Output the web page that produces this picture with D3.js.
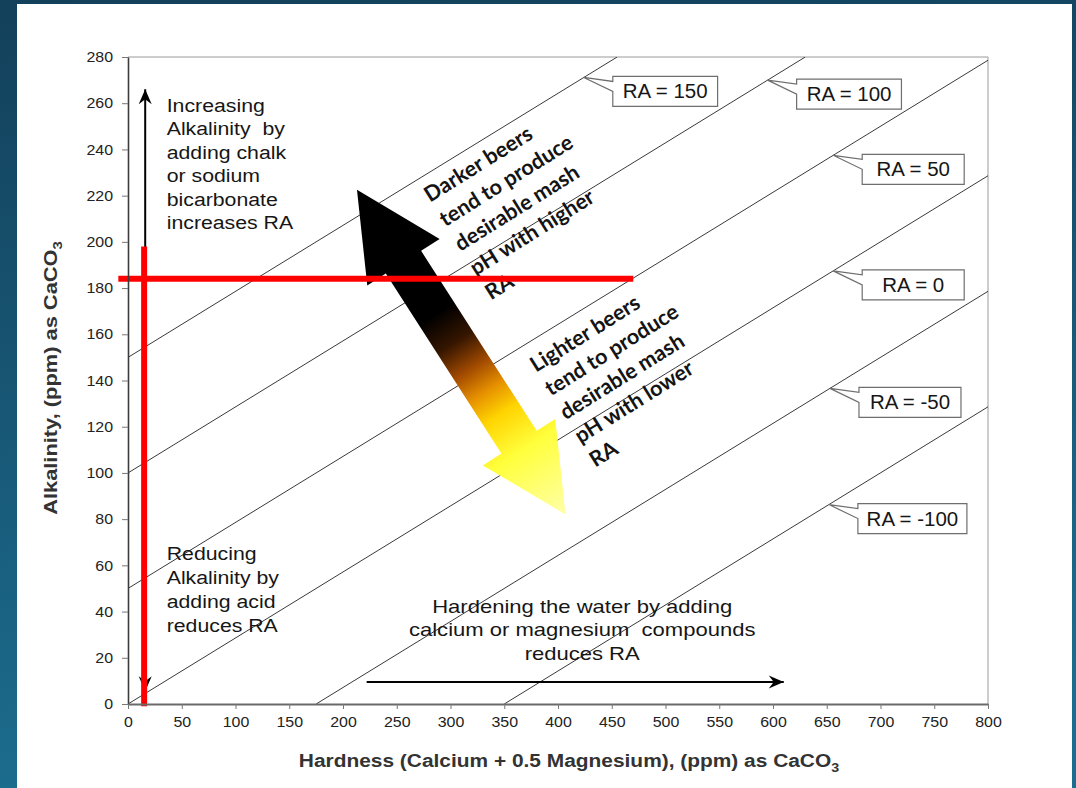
<!DOCTYPE html>
<html>
<head>
<meta charset="utf-8">
<script src="https://cdn.jsdelivr.net/npm/d3@7"></script>
<style>
    body { margin: 0; background: #17506c; }
    svg { display: block; }
</style>
</head>
<body>
<div id="chart"></div>
<script>
// tick labels
const hardnessTicks = [0, 50, 100, 150, 200, 250, 300, 350, 400, 450, 500, 550, 600, 650, 700, 750, 800];
const alkalinityTicks = [0, 20, 40, 60, 80, 100, 120, 140, 160, 180, 200, 220, 240, 260, 280];

// RA lines, read as [hardness, alkalinity] end points
const raValues = [150, 100, 50, 0, -50, -100];
const raLineStart = [[0, 150], [0, 100], [0, 50], [0, 0], [175, 0], [350, 0]];
const raLineEnd = [[455, 280], [630, 280], [800, 278.6], [800, 228.6], [800, 178.6], [800, 128.6]];
// hardness where each label's callout touches its line
const raLabelAt = [424, 595, 656, 656, 653, 652];

// red marker lines
const redVertical = { hardness: 15, from: -1, to: 198 };
const redHorizontal = { alkalinity: 184, from: -9, to: 470 };

// black direction arrows
const alkArrow = { hardness: 16, top: 266, bottom: 5.5 };
const hardArrow = { alkalinity: 9.5, from: 222, to: 610 };

// big colour arrow, tips as [hardness, alkalinity]
const beerArrow = [[213, 222.5], [407, 82]];

const textIncreasing = ["Increasing", "Alkalinity  by", "adding chalk", "or sodium", "bicarbonate", "increases RA"];
const textReducing = ["Reducing", "Alkalinity by", "adding acid", "reduces RA"];
const textHardening = ["Hardening the water by adding", "calcium or magnesium  compounds", "reduces RA"];
const textDarker = ["Darker beers", "tend to produce", "desirable mash", "pH with higher", "RA"];
const textLighter = ["Lighter beers", "tend to produce", "desirable mash", "pH with lower", "RA"];

const W = 1076, H = 788;
const margin = { top: 57, right: 88, bottom: 84, left: 128 };

const svg = d3.select("#chart").append("svg")
    .attr("width", W)
    .attr("height", H);

const defs = svg.append("defs");

// background
const bg = defs.append("linearGradient")
    .attr("id", "bg")
    .attr("x1", 0).attr("y1", 0).attr("x2", 0.15).attr("y2", 1);
bg.append("stop").attr("offset", 0).attr("stop-color", "#13405a");
bg.append("stop").attr("offset", 1).attr("stop-color", "#1c6d8f");

svg.append("rect").attr("width", W).attr("height", H).attr("fill", "url(#bg)");
svg.append("rect")
    .attr("x", 17).attr("y", 4)
    .attr("width", 1072 - 17).attr("height", H)
    .attr("fill", "#fff");

const x = d3.scaleLinear().domain([0, 800]).range([margin.left, W - margin.right]);
const y = d3.scaleLinear().domain([0, 280]).range([H - margin.bottom, margin.top]);

defs.append("clipPath").attr("id", "plot")
    .append("rect")
    .attr("x", x(0)).attr("y", y(280))
    .attr("width", x(800) - x(0)).attr("height", y(0) - y(280));

// plot frame (top and right)
svg.append("path")
    .attr("d", `M${x(0)},${y(280)}H${x(800)}V${y(0)}`)
    .attr("fill", "none")
    .attr("stroke", "#9a9a9a")
    .attr("stroke-width", 1);

// RA lines
svg.append("g")
    .attr("clip-path", "url(#plot)")
    .selectAll("line")
    .data(raValues)
    .join("line")
    .attr("x1", (d, i) => x(raLineStart[i][0]))
    .attr("y1", (d, i) => y(raLineStart[i][1]))
    .attr("x2", (d, i) => x(raLineEnd[i][0]))
    .attr("y2", (d, i) => y(raLineEnd[i][1]))
    .attr("stroke", "#3a3a3a")
    .attr("stroke-width", 1);

// big gradient arrow
const p1 = [x(beerArrow[0][0]), y(beerArrow[0][1])];
const p2 = [x(beerArrow[1][0]), y(beerArrow[1][1])];
const len = Math.hypot(p2[0] - p1[0], p2[1] - p1[1]);
const ux = (p2[0] - p1[0]) / len, uy = (p2[1] - p1[1]) / len;
const nx = -uy, ny = ux;
const hl = 86, hw = 43, sw = 21;
const local = [[0, 0], [hl, hw], [hl, sw], [len - hl, sw], [len - hl, hw], [len, 0],
    [len - hl, -hw], [len - hl, -sw], [hl, -sw], [hl, -hw]];
const arrowPts = local.map(([s, t]) => [p1[0] + s * ux + t * nx, p1[1] + s * uy + t * ny]);

const ag = defs.append("linearGradient")
    .attr("id", "beer")
    .attr("gradientUnits", "userSpaceOnUse")
    .attr("x1", p1[0]).attr("y1", p1[1])
    .attr("x2", p2[0]).attr("y2", p2[1]);
[[0, "#000000"], [0.38, "#000000"], [0.47, "#361600"], [0.55, "#a24a00"],
 [0.62, "#e69000"], [0.69, "#ffd400"], [0.8, "#ffff3c"], [1, "#ffffa8"]]
    .forEach(([o, c]) => ag.append("stop").attr("offset", o).attr("stop-color", c));

svg.append("path")
    .attr("d", d3.line()(arrowPts) + "Z")
    .attr("fill", "url(#beer)");

// arrow marker
defs.append("marker")
    .attr("id", "head")
    .attr("viewBox", "-16 -8 18 16")
    .attr("refX", 0).attr("refY", 0)
    .attr("markerWidth", 18).attr("markerHeight", 16)
    .attr("markerUnits", "userSpaceOnUse")
    .attr("orient", "auto-start-reverse")
    .append("path")
    .attr("d", "M0,0L-15,-6.5L-10,0L-15,6.5Z")
    .attr("fill", "#000");

svg.append("line")
    .attr("x1", x(alkArrow.hardness)).attr("x2", x(alkArrow.hardness))
    .attr("y1", y(alkArrow.bottom)).attr("y2", y(alkArrow.top))
    .attr("stroke", "#000").attr("stroke-width", 2)
    .attr("marker-start", "url(#head)")
    .attr("marker-end", "url(#head)");

svg.append("line")
    .attr("x1", x(hardArrow.from)).attr("x2", x(hardArrow.to))
    .attr("y1", y(hardArrow.alkalinity)).attr("y2", y(hardArrow.alkalinity))
    .attr("stroke", "#000").attr("stroke-width", 2)
    .attr("marker-end", "url(#head)");

// text helpers
function block(lines, px, py, opts) {
    const t = svg.append("text")
        .attr("transform", opts.rotate != null
            ? `translate(${px},${py}) rotate(${opts.rotate})`
            : `translate(${px},${py}) scale(${opts.sx || 1},1)`)
        .attr("font-family", opts.family || "'Liberation Sans', Arial, sans-serif")
        .attr("font-size", opts.size)
        .attr("font-weight", opts.weight || "normal")
        .attr("fill", opts.color || "#161616")
        .attr("text-anchor", opts.anchor || "start");
    t.selectAll("tspan")
        .data(lines)
        .join("tspan")
        .attr("x", 0)
        .attr("y", (d, i) => i * opts.lh)
        .style("white-space", "pre")
        .text(d => d);
    return t;
}

block(textIncreasing, x(36), y(256.3), { size: 19, sx: 1.12, lh: 23.5 });
block(textReducing, x(36), y(62.3), { size: 19, sx: 1.12, lh: 24 });
block(textHardening, x(422.5), y(39.4), { size: 19, sx: 1.16, lh: 23.5, anchor: "middle" });
block(textDarker, x(281), y(216.9), { size: 21.5, lh: 28.8, rotate: -32, weight: "bold", family: "Lato, 'Open Sans', sans-serif", color: "#141414" });
block(textLighter, x(379.5), y(143.3), { size: 21.5, lh: 28, rotate: -32, weight: "bold", family: "Lato, 'Open Sans', sans-serif", color: "#141414" });

// red lines on top
svg.append("line")
    .attr("x1", x(redVertical.hardness)).attr("x2", x(redVertical.hardness))
    .attr("y1", y(redVertical.from)).attr("y2", y(redVertical.to))
    .attr("stroke", "#ff0000").attr("stroke-width", 6);
svg.append("line")
    .attr("x1", x(redHorizontal.from)).attr("x2", x(redHorizontal.to))
    .attr("y1", y(redHorizontal.alkalinity)).attr("y2", y(redHorizontal.alkalinity))
    .attr("stroke", "#ff0000").attr("stroke-width", 6);

// RA callout labels
raValues.forEach((ra, i) => {
    const s = raLineStart[i], e = raLineEnd[i];
    const h = raLabelAt[i];
    const a = s[1] + (e[1] - s[1]) * (h - s[0]) / (e[0] - s[0]);
    const tx = x(h), ty = y(a);
    const bx = tx + 29, by = ty - 1;
    const g = svg.append("g");
    const path = g.append("path");
    const txt = g.append("text")
        .attr("text-anchor", "middle")
        .attr("font-family", "'Liberation Sans', Arial, sans-serif")
        .attr("font-size", 19.5)
        .attr("fill", "#161616")
        .text(`RA = ${ra}`);
    const tw = txt.node().getComputedTextLength() * 1.05;
    const bw = Math.max(102, Math.min(tw + 20, 109));
    const bh = 30;
    txt.attr("transform", `translate(${bx + bw / 2},${by + 22}) scale(1.05,1)`);
    path.attr("d", `M${bx},${by}H${bx + bw}V${by + bh}H${bx}V${by + 15}L${tx},${ty}L${bx},${by + 5}Z`)
        .attr("fill", "#fff")
        .attr("stroke", "#6e6e6e")
        .attr("stroke-width", 1.2);
});

// axes
const yAxis = svg.append("g")
    .attr("transform", `translate(${x(0)},0)`)
    .call(d3.axisLeft(y).tickValues(alkalinityTicks).tickSize(6).tickSizeOuter(0).tickPadding(9));
yAxis.select(".domain").attr("stroke", "#3c3c3c").attr("stroke-width", 1.6);
yAxis.selectAll(".tick line").attr("stroke", "#777");
yAxis.selectAll(".tick text")
    .attr("font-family", "'Liberation Sans', Arial, sans-serif")
    .attr("font-size", 14.5)
    .attr("fill", "#222")
    .attr("x", -15 / 1.1)
    .attr("transform", "scale(1.1,1)");

const xAxis = svg.append("g")
    .attr("transform", `translate(0,${y(0)})`)
    .call(d3.axisBottom(x).tickValues(hardnessTicks).tickSize(5).tickSizeOuter(0).tickPadding(8));
xAxis.select(".domain").attr("stroke", "#6a6a6a").attr("stroke-width", 2);
xAxis.selectAll(".tick line").attr("stroke", "#777");
xAxis.selectAll(".tick text")
    .attr("font-family", "'Liberation Sans', Arial, sans-serif")
    .attr("font-size", 14.5)
    .attr("fill", "#222")
    .attr("transform", "scale(1.1,1)");

// axis titles
const xt = svg.append("text")
    .attr("transform", `translate(569,767) scale(1.1,1)`)
    .attr("text-anchor", "middle")
    .attr("font-family", "'Liberation Sans', Arial, sans-serif")
    .attr("font-size", 19)
    .attr("font-weight", "bold")
    .attr("fill", "#333");
xt.append("tspan").text("Hardness (Calcium + 0.5 Magnesium), (ppm) as CaCO");
xt.append("tspan").attr("font-size", 13).attr("dy", 5).text("3");

const yt = svg.append("text")
    .attr("transform", `translate(57,378) rotate(-90) scale(1.15,1)`)
    .attr("text-anchor", "middle")
    .attr("font-family", "'Liberation Sans', Arial, sans-serif")
    .attr("font-size", 19)
    .attr("font-weight", "bold")
    .attr("fill", "#333");
yt.append("tspan").text("Alkalinity, (ppm) as CaCO");
yt.append("tspan").attr("font-size", 13).attr("dy", 5).text("3");
</script>
</body>
</html>
